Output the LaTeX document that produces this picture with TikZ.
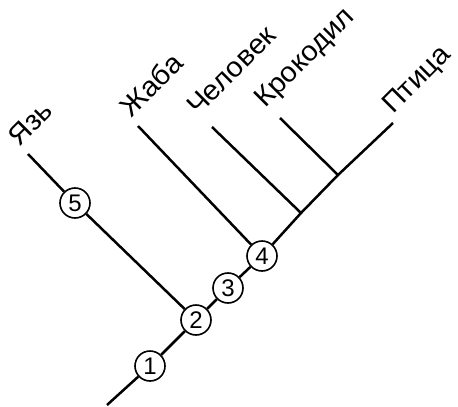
\documentclass[tikz,border=0pt]{standalone}
\usepackage{fontspec}
\setmainfont{Liberation Sans}
\newfontfamily\taxonfont[FakeStretch=1.04]{Liberation Sans}
\begin{document}
\begin{tikzpicture}[x=1pt,y=-1pt,
  branch/.style={line width=2.5pt},
  numnode/.style={circle,draw,line width=1.6pt,fill=white,minimum size=30pt,inner sep=0pt,font=\fontsize{24}{24}\selectfont},
  taxon/.style={rotate=45,anchor=base west,inner sep=0pt,font=\taxonfont\fontsize{28}{28}\selectfont}]
\useasboundingbox (0,0) rectangle (458,407);
% tips and junctions
\coordinate (root) at (107,405);
\coordinate (tYaz) at (28,154);
\coordinate (tZhaba) at (138,126);
\coordinate (tChel) at (212,127);
\coordinate (tKrok) at (280,118);
\coordinate (tPtica) at (393,123);
\coordinate (j1) at (301,213);
\coordinate (j2) at (338,175);
% numbered circles
\node[numnode] (n1) at (150,366) {1};
\node[numnode] (n2) at (196,320) {2};
\node[numnode] (n3) at (228,288) {3};
\node[numnode] (n4) at (262,256) {4};
\node[numnode] (n5) at (75,203) {5};
% branches
\draw[branch] (root) -- (n1) -- (n2) -- (n3) -- (n4) -- (j1) -- (j2) -- (tPtica);
\draw[branch] (tYaz) -- (n5) -- (n2);
\draw[branch] (tZhaba) -- (n4);
\draw[branch] (tChel) -- (j1);
\draw[branch] (tKrok) -- (j2);
% labels
\node[taxon] (lYaz) at (19,148) {Язь};
\node[taxon] (lZhaba) at (131,119) {Жаба};
\node[taxon] (lChel) at (198,117) {Человек};
\node[taxon] (lKrok) at (265,109) {Крокодил};
\node[taxon] (lPtica) at (393,115) {Птица};
\end{tikzpicture}
\end{document}
